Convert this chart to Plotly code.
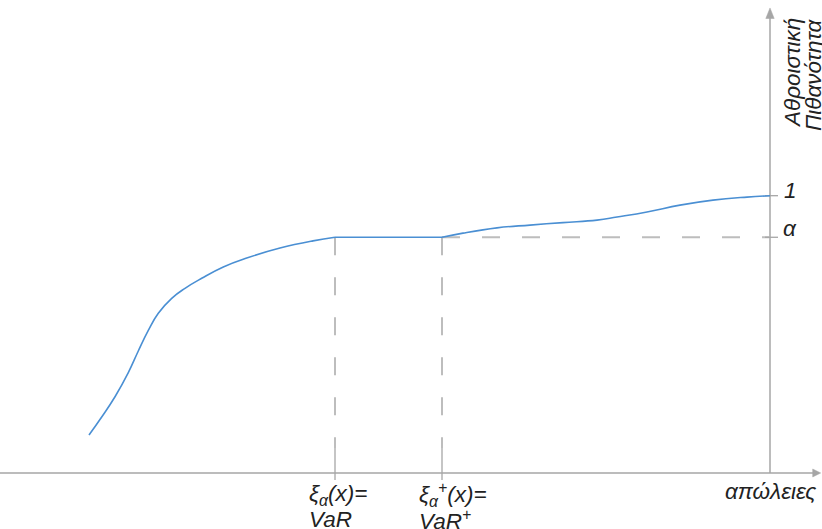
import plotly.graph_objects as go

# ---- data (loss in arbitrary units, cumulative probability) ----
loss_rise = [0.89, 1.017, 1.15, 1.283, 1.383, 1.483, 1.583, 1.717, 1.85, 2.017, 2.233, 2.467, 2.80, 3.13, 3.35]
prob_rise = [0.137, 0.202, 0.275, 0.362, 0.440, 0.514, 0.576, 0.630, 0.666, 0.702, 0.743, 0.775, 0.811, 0.837, 0.850]
loss_tail = [4.42, 4.63, 4.97, 5.30, 5.63, 5.97, 6.17, 6.47, 6.80, 7.13, 7.47, 7.70]
prob_tail = [0.850, 0.865, 0.884, 0.894, 0.903, 0.912, 0.923, 0.941, 0.966, 0.984, 0.995, 1.000]
var_x = 3.35
var_plus_x = 4.42
alpha = 0.850
x_label = "απώλειες"
y_label = ["Αθροιστική", "Πιθανότητα"]
tick_var = ["ξ<sub>α</sub>(x)=", "VaR"]
tick_var_plus = ["ξ<sub>α</sub><sup>+</sup>(x)=", "VaR<sup>+</sup>"]

BLUE = "#4a8fd3"
AXIS = "#a6a6a6"
DASH = "#bdbdbd"
FONT = "Liberation Sans, Arial, sans-serif"

X_AX = loss_tail[-1]          # position of the probability axis
X_END = 8.207                 # end of loss axis (arrow tip)
Y_END = 1.677                 # end of probability axis (arrow tip)

fig = go.Figure()
fig.add_trace(go.Scatter(x=loss_rise, y=prob_rise, mode="lines",
                         line=dict(color=BLUE, width=1.6, shape="spline", smoothing=1.3),
                         hoverinfo="skip", showlegend=False))
fig.add_trace(go.Scatter(x=[var_x, var_plus_x], y=[alpha, alpha], mode="lines",
                         line=dict(color=BLUE, width=1.6), hoverinfo="skip", showlegend=False))
fig.add_trace(go.Scatter(x=loss_tail, y=prob_tail, mode="lines",
                         line=dict(color=BLUE, width=1.6, shape="spline", smoothing=1.3),
                         hoverinfo="skip", showlegend=False))

shapes = []
dash = "18px,22px"
# axes
shapes.append(dict(type="line", x0=0, x1=X_END - 0.05, y0=0, y1=0, line=dict(color=AXIS, width=1.5), layer="below"))
shapes.append(dict(type="line", x0=X_AX, x1=X_AX, y0=0, y1=Y_END - 0.03, line=dict(color=AXIS, width=1.5), layer="below"))
# arrow heads
shapes.append(dict(type="path", path=f"M {X_END} 0 L {X_END-0.08} 0.0144 L {X_END-0.08} -0.0144 Z",
                   fillcolor=AXIS, line=dict(color=AXIS, width=0.5)))
shapes.append(dict(type="path", path=f"M {X_AX} {Y_END} L {X_AX-0.042} {Y_END-0.038} L {X_AX+0.042} {Y_END-0.038} Z",
                   fillcolor=AXIS, line=dict(color=AXIS, width=0.5)))
# dashed guides
for xv in (var_x, var_plus_x):
    shapes.append(dict(type="line", x0=xv, x1=xv, y0=alpha, y1=0.09, line=dict(color=DASH, width=2, dash=dash), layer="below"))
    shapes.append(dict(type="line", x0=xv, x1=xv, y0=0.09, y1=-0.025, line=dict(color=AXIS, width=1.3), layer="below"))
shapes.append(dict(type="line", x0=var_plus_x, x1=X_AX, y0=alpha, y1=alpha, line=dict(color=DASH, width=2, dash=dash), layer="below"))
for yv in (alpha, prob_tail[-1]):
    shapes.append(dict(type="line", x0=X_AX - 0.05, x1=X_AX + 0.08, y0=yv, y1=yv, line=dict(color=AXIS, width=1.3), layer="below"))

ann = []
tf = dict(family=FONT, size=22.5, color="#222222")
ann.append(dict(x=X_AX + 0.2, y=prob_tail[-1] + 0.02, text="<i>1</i>", showarrow=False, font=tf, xanchor="center", yanchor="middle"))
ann.append(dict(x=X_AX + 0.2, y=alpha + 0.03, text="<i>α</i>", showarrow=False, font=tf, xanchor="center", yanchor="middle"))
ann.append(dict(x=X_END - 0.03, y=-0.068, text=f"<i>{x_label}</i>", showarrow=False, font=tf, xanchor="right", yanchor="middle"))
for i, lab in enumerate(y_label):
    ann.append(dict(x=X_AX + 0.225 + 0.205 * i, y=Y_END - 0.031, text=f"<i>{lab}</i>", showarrow=False,
                    font=tf, textangle=-90, xanchor="center", yanchor="top"))
for xv, lines, dx in ((var_x, tick_var, 0.28), (var_plus_x, tick_var_plus, 0.25)):
    for i, lab in enumerate(lines):
        ann.append(dict(x=xv - dx, y=-0.0793 - 0.09 * i, text=f"<i>{lab}</i>", showarrow=False, font=tf,
                        xanchor="left", yanchor="middle"))

fig.update_layout(
    width=822, height=529, margin=dict(l=0, r=0, t=0, b=0),
    paper_bgcolor="white", plot_bgcolor="white",
    xaxis=dict(range=[0, 8.22], visible=False, fixedrange=True),
    yaxis=dict(range=[-0.202, 1.7057], visible=False, fixedrange=True),
    shapes=shapes, annotations=ann, showlegend=False,
)
fig.write_html("out.html")
